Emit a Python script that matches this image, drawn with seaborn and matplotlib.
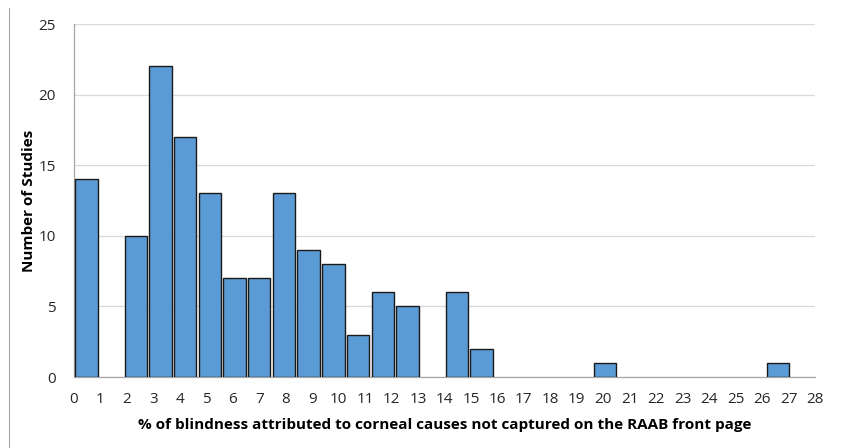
import matplotlib
matplotlib.use("Agg")
import matplotlib.pyplot as plt
import seaborn as sns
import numpy as np
import pandas as pd
from matplotlib.lines import Line2D

# counts per bin (30 bins, as drawn in the original)
bins = list(range(30))
counts = [14, 0, 10, 22, 17, 13, 7, 7, 13, 9, 8, 3, 6, 5, 0,
          6, 2, 0, 0, 0, 0, 1, 0, 0, 0, 0, 0, 0, 1, 0]
tick_labels = [str(i) for i in range(29)]
y_ticks = [0, 5, 10, 15, 20, 25]

df = pd.DataFrame({"bin": bins, "count": counts})

sns.set_style("white")
plt.rcParams['font.family'] = ['Open Sans', 'DejaVu Sans']

fig = plt.figure(figsize=(8.44, 4.48), dpi=100)
ax = fig.add_axes([74 / 844, 71 / 448, 741 / 844, 353 / 448])

sns.barplot(data=df, x="bin", y="count", color="#5B9BD5", saturation=1,
            width=0.91, edgecolor="#1a1a1a", linewidth=1.0, ax=ax, zorder=3)

# empty bins should not show an outline on the axis
for p in ax.patches:
    if p.get_height() == 0:
        p.set_visible(False)

ax.set_xlim(-0.5, 29.5)
ax.set_ylim(0, 25)
ax.set_yticks(y_ticks)
ax.set_xticks(np.linspace(-0.5, 29.5, len(tick_labels)))
ax.set_xticklabels(tick_labels)
ax.yaxis.grid(True, color="#d9d9d9", linewidth=0.9, zorder=0)
ax.set_axisbelow(True)

for s in ["top", "right"]:
    ax.spines[s].set_visible(False)
for s in ["left", "bottom"]:
    ax.spines[s].set_color("#a6a6a6")
    ax.spines[s].set_linewidth(0.9)

ax.tick_params(axis="x", direction="out", length=5, color="#a6a6a6",
               labelsize=11, labelcolor="#262626", pad=6)
ax.tick_params(axis="y", direction="out", length=5, color="#a6a6a6",
               labelsize=11, labelcolor="#262626", pad=8)

ax.set_xlabel("% of blindness attributed to corneal causes not captured on the RAAB front page",
              fontsize=11, fontweight="bold", color="#000000", labelpad=8)
ax.set_ylabel("Number of Studies", fontsize=11, fontweight="bold",
              color="#000000", labelpad=2)

# thin frame line at the left edge of the picture
fig.add_artist(Line2D([9 / 844, 9 / 844], [0, 1 - 8 / 448], color="#a6a6a6",
                      linewidth=0.8, transform=fig.transFigure))

fig.savefig("out.png", dpi=100)
plt.close(fig)
